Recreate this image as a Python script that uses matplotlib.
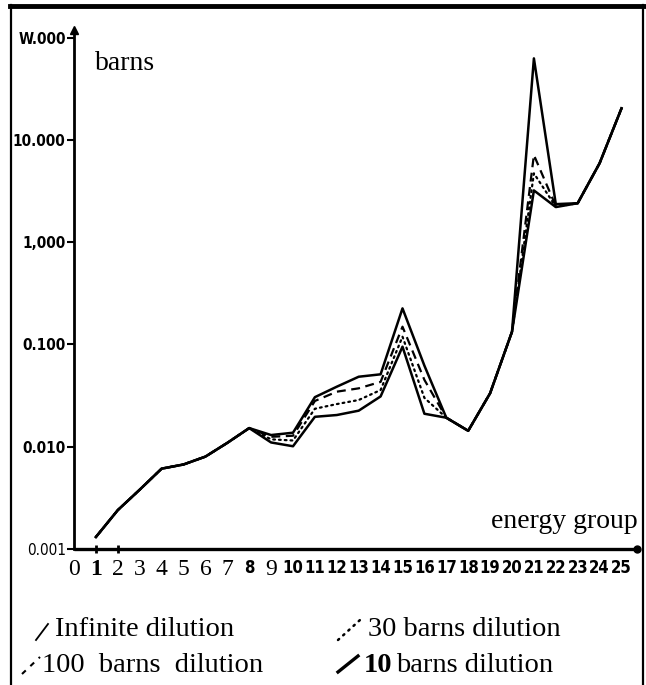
import matplotlib
matplotlib.use("Agg")
import matplotlib.pyplot as plt
from matplotlib.lines import Line2D
from matplotlib import font_manager as fm

# ---------------- data ----------------
groups = list(range(1, 26))
infinite_dilution = [0.00131, 0.0024, 0.0038, 0.0061, 0.0067, 0.0080, 0.0109, 0.0152,
                     0.0130, 0.0137, 0.0305, 0.0386, 0.0483, 0.0510, 0.225, 0.062,
                     0.0192, 0.0143, 0.0333, 0.133, 62.5, 2.35, 2.40, 5.9, 20.3]
barns100_dilution = [0.00131, 0.0024, 0.0038, 0.0061, 0.0067, 0.0080, 0.0109, 0.0152,
                     0.0125, 0.0128, 0.0280, 0.0345, 0.0372, 0.0430, 0.149, 0.045,
                     0.0192, 0.0143, 0.0333, 0.133, 7.1, 2.25, 2.40, 5.9, 20.3]
barns30_dilution = [0.00131, 0.0024, 0.0038, 0.0061, 0.0067, 0.0080, 0.0109, 0.0152,
                    0.0118, 0.0115, 0.0235, 0.0261, 0.0286, 0.0358, 0.119, 0.030,
                    0.0192, 0.0143, 0.0333, 0.133, 4.7, 2.22, 2.40, 5.9, 20.3]
barns10_dilution = [0.00131, 0.0024, 0.0038, 0.0061, 0.0067, 0.0080, 0.0109, 0.0152,
                    0.0110, 0.0101, 0.0196, 0.0204, 0.0225, 0.0310, 0.095, 0.021,
                    0.0192, 0.0143, 0.0333, 0.133, 3.2, 2.20, 2.40, 5.9, 20.3]
x_tick_values = list(range(0, 26))
x_tick_labels = [str(v) for v in x_tick_values]
y_tick_values = [0.001, 0.01, 0.1, 1, 10, 100]
y_tick_labels = ["0.001", "0.010", "0.100", "1,000", "10.000", "W.000"]

# ---------------- fonts ----------------
names = {f.name for f in fm.fontManager.ttflist}
SERIF = "Liberation Serif"
if "Liberation Sans Narrow" in names:
    NARROW_KW = dict(family="Liberation Sans Narrow")
    XS, YS = 14, 13
else:
    p = fm.findfont(fm.FontProperties(family="DejaVu Sans", stretch="condensed",
                                      weight="bold"), fallback_to_default=True)
    if "Condensed" in p:
        NARROW_KW = dict(family="DejaVu Sans", stretch="condensed")
        XS, YS = 12, 11
    else:
        NARROW_KW = dict(family="Liberation Sans")
        XS, YS = 12, 12

W, H = 646, 685
fig = plt.figure(figsize=(W / 100, H / 100), dpi=100)

def fx(px):
    return px / W

def fy(py):
    return 1 - py / H

ax_left, ax_right, ax_bottom, ax_top = 74, 640, 549, 30
ax = fig.add_axes([fx(ax_left), fy(ax_bottom), fx(ax_right) - fx(ax_left),
                   fy(ax_top) - fy(ax_bottom)])
ax.set_yscale("log")
ax.set_xlim(0, (ax_right - ax_left) / 21.9)
ax.set_ylim(0.001, 10 ** ((ax_bottom - ax_top) / 102.3 - 3))

lw = 1.8
ax.plot(groups, barns100_dilution, color="black", lw=1.6, ls=(0, (4, 2.5)), zorder=3)
ax.plot(groups, barns30_dilution, color="black", lw=1.6, ls=(0, (0.8, 1.8)),
        dash_capstyle="round", zorder=3)
ax.plot(groups, barns10_dilution, color="black", lw=lw, zorder=4)
ax.plot(groups, infinite_dilution, color="black", lw=lw, zorder=4)

for s in ["top", "right"]:
    ax.spines[s].set_visible(False)
ax.spines["left"].set_linewidth(2.0)
ax.spines["bottom"].set_linewidth(2.4)
ax.spines["bottom"].set_capstyle("butt")

# arrow on y-axis top and dot at x-axis end
ax.plot([0], [ax.get_ylim()[1]], marker="^", color="black", ms=6, clip_on=False, zorder=5)
ax.plot([ax.get_xlim()[1] - 0.15], [0.001], marker="o", color="black", ms=5,
        clip_on=False, zorder=5)

# y ticks
ax.set_yticks(y_tick_values)
ax.set_yticklabels(y_tick_labels)
ax.yaxis.set_minor_locator(matplotlib.ticker.NullLocator())
ax.tick_params(axis="y", which="major", length=5, width=1.5, direction="out", pad=1)
for lab, txt in zip(ax.get_yticklabels(), y_tick_labels):
    lab.set_fontproperties(fm.FontProperties(**NARROW_KW, size=YS,
                                             weight="normal" if txt == "0.001" else "bold"))

# x ticks
ax.set_xticks(x_tick_values)
ax.set_xticklabels(x_tick_labels)
ax.tick_params(axis="x", length=0, pad=7)
for v, lab in zip(x_tick_values, ax.get_xticklabels()):
    if v <= 7 or v == 9:
        lab.set_fontproperties(fm.FontProperties(family=SERIF, size=17,
                                                 weight="bold" if v == 1 else "normal"))
    else:
        lab.set_fontproperties(fm.FontProperties(**NARROW_KW, size=XS, weight="bold"))
ticks = ax.xaxis.get_major_ticks()
ax.tick_params(axis="x", direction="inout")
for i, t in enumerate(ticks):
    if i in (1, 2):
        t.tick1line.set_markersize(6)
        t.tick1line.set_markeredgewidth(2)
    else:
        t.tick1line.set_markersize(0)

# axis titles
fig.text(fx(95), fy(63), "barns", family=SERIF, fontsize=20, va="center", ha="left")
fig.text(fx(638), fy(522), "energy group", family=SERIF, fontsize=20, va="center", ha="right")

# frame
fig.add_artist(Line2D([fx(10), fx(644)], [fy(6), fy(6)], color="black", lw=3.5))
fig.add_artist(Line2D([fx(11), fx(11)], [fy(5), fy(685)], color="black", lw=1.6))
fig.add_artist(Line2D([fx(643), fx(643)], [fy(5), fy(685)], color="black", lw=1.6))

# legend
fig.add_artist(Line2D([fx(36), fx(48)], [fy(640), fy(624)], color="black", lw=1.3))
fig.text(fx(55), fy(630), "Infinite dilution", family=SERIF, fontsize=20.5, va="center")
fig.add_artist(Line2D([fx(338), fx(360)], [fy(640), fy(620)], color="black", lw=1.8,
                      ls=(0, (0.6, 2.2)), dash_capstyle="round"))
fig.text(fx(368), fy(630), "30 barns dilution", family=SERIF, fontsize=20.5, va="center")
fig.add_artist(Line2D([fx(22), fx(40)], [fy(674), fy(657)], color="black", lw=1.5,
                      ls=(0, (2.5, 3))))
fig.text(fx(42), fy(666), "100  barns  dilution", family=SERIF, fontsize=20.5, va="center")
fig.add_artist(Line2D([fx(338), fx(358)], [fy(672), fy(656)], color="black", lw=2.4))
fig.text(fx(364), fy(666), "10", family=SERIF, fontsize=20.5, va="center", weight="bold")
fig.text(fx(396), fy(666), "barns dilution", family=SERIF, fontsize=20.5, va="center")

fig.savefig("out.png", dpi=100)
